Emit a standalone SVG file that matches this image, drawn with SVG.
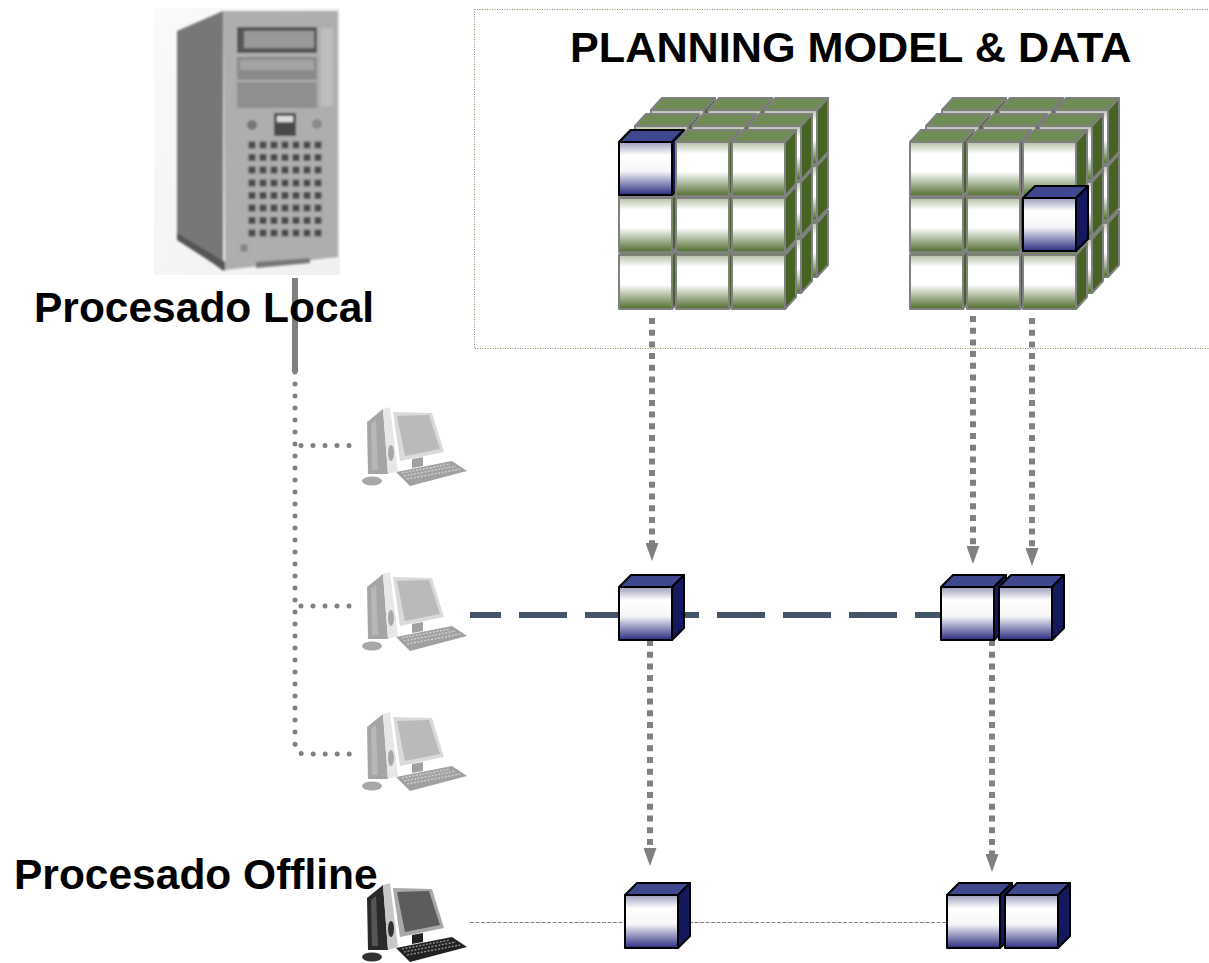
<svg xmlns="http://www.w3.org/2000/svg" width="1209" height="963" viewBox="0 0 1209 963">
<style>
.lbl{font-family:"Liberation Sans",Arial,sans-serif;font-weight:bold;fill:#000}
.flow{fill:none;stroke:#808080;stroke-width:6;stroke-dasharray:6 5.700;marker-end:url(#ah)}
.dots{fill:none;stroke:#808080;stroke-width:5;stroke-linecap:round;stroke-dasharray:0 12}
.gc{stroke:#808080;stroke-width:2;stroke-linejoin:round}
.bc{stroke:#000;stroke-width:2;stroke-linejoin:round}
</style>
<defs>
<linearGradient id="gg" x1="0" y1="0" x2="0" y2="1"><stop offset="0" stop-color="#b4c0a6"/><stop offset=".22" stop-color="#fff"/><stop offset=".55" stop-color="#fff"/><stop offset="1" stop-color="#4f6d2e"/></linearGradient>
<linearGradient id="bg" x1="0" y1="0" x2="0" y2="1"><stop offset="0" stop-color="#9c9cbc"/><stop offset=".25" stop-color="#fff"/><stop offset=".55" stop-color="#f6f6f8"/><stop offset="1" stop-color="#2a2d80"/></linearGradient>
<linearGradient id="bgd" x1="0" y1="0" x2="1" y2="1"><stop offset="0" stop-color="#fafafa"/><stop offset="1" stop-color="#f0f0f0"/></linearGradient>
<filter id="soft" x="-5%" y="-5%" width="110%" height="110%"><feGaussianBlur stdDeviation="1.2"/></filter>
<filter id="soft2" x="-5%" y="-5%" width="110%" height="110%"><feGaussianBlur stdDeviation="0.5"/></filter>
<marker id="ah" markerUnits="userSpaceOnUse" markerWidth="18" markerHeight="13" refX="0" refY="6.500" orient="auto"><path d="M0 0L18 6.500L0 13Z" fill="#808080"/></marker>
<g id="gcube" class="gc"><path d="M0 0L11-12H64L53 0Z" fill="#6f8c55"/><path d="M53 0L64-12V42L53 54Z" fill="#476324"/><rect width="53" height="54" fill="url(#gg)"/></g>
<g id="bcube" class="bc"><path d="M0 0L12-12H65L53 0Z" fill="#3f478f"/><path d="M53 0L65-12V41L53 53Z" fill="#14185f"/><rect width="53" height="53" fill="url(#bg)"/></g>
<g id="layer">
<use href="#gcube" x="0" y="113"/><use href="#gcube" x="57" y="113"/><use href="#gcube" x="113" y="113"/>
<use href="#gcube" x="0" y="56"/><use href="#gcube" x="57" y="56"/><use href="#gcube" x="113" y="56"/>
<use href="#gcube" x="0" y="0"/><use href="#gcube" x="57" y="0"/><use href="#gcube" x="113" y="0"/>
</g>
<g id="matrix"><use href="#layer" x="32" y="-32"/><use href="#layer" x="16" y="-16"/><use href="#layer"/></g>
<g id="pc" filter="url(#soft2)">
<ellipse cx="92" cy="81" rx="10" ry="4.500" fill="#333"/>
<path d="M87 22L103 9L108 74L88 74Z" fill="#2c2c2c"/>
<path d="M91 24L96 20L98 70L92 70Z" fill="#555"/>
<path d="M103 9L110 7L118 71L108 74Z" fill="#c8c8c8"/>
<ellipse cx="111" cy="53" rx="3" ry="8" fill="#333"/>
<path d="M132 59L143 57V66L132 68Z" fill="#222"/>
<path d="M113 12L152 13L164 52L120 61Z" fill="#a8a8a8"/>
<path d="M117 16L149 15L160 49L125 56Z" fill="#5c5c5c"/>
<path d="M116 72L172 61L187 71L130 86Z" fill="#222"/>
<path d="M122 73L170 64M124 76L176 66M127 79L180 69" fill="none" stroke="#8a8a8a" stroke-width="1.500" stroke-dasharray="2 1.500"/>
</g>
</defs>

<rect id="frame" x="474.500" y="9.500" width="735" height="339" fill="none" stroke="#7d8f5c" stroke-width="1" stroke-dasharray="1 1.500"/>

<g id="server">
<rect x="154" y="8" width="186" height="267" fill="url(#bgd)"/>
<g filter="url(#soft)">
<path d="M177 31L223 11V271L177 235Z" fill="#777"/>
<path d="M223 11H338V257L225 270Z" fill="#aeaeae"/>
<path d="M177 233L225 262V271L177 240Z" fill="#555"/>
<path d="M256 268L310 263V258L256 262Z" fill="#777"/>
<rect x="237" y="27" width="80" height="26" fill="#555"/>
<rect x="244" y="31" width="70" height="17" fill="#999"/>
<rect x="237" y="57" width="80" height="23" fill="#8a8a8a"/>
<rect x="240" y="60" width="74" height="10" fill="#a4a4a4"/>
<rect x="237" y="82" width="80" height="26" fill="#8f8f8f"/>
<rect x="321" y="28" width="12" height="78" fill="#bdbdbd"/>
<rect x="274" y="113" width="22" height="23" fill="#4a4a4a"/>
<rect x="277" y="116" width="16" height="6" fill="#ddd"/>
<circle cx="252" cy="125" r="5" fill="#777"/><circle cx="317" cy="124" r="5" fill="#8a8a8a"/>
<path d="M248.500 145H321.500M248.500 157.500H321.500M248.500 170H321.500M248.500 183H321.500M248.500 195.500H321.500M248.500 208H321.500M248.500 220.500H321.500M248.500 233H321.500" fill="none" stroke="#484848" stroke-width="7" stroke-dasharray="7 4"/>
<circle cx="244" cy="248" r="4" fill="#888"/>
</g>
</g>

<g id="connectors">
<path d="M295 278V372" fill="none" stroke="#808080" stroke-width="6"/>
<path class="dots" d="M295 372V742Q295 754 305 754H352"/>
<path class="dots" d="M301 445.500H352"/>
<path class="dots" d="M301 606H352"/>
<path d="M470 615H501M519 615H567M585 615H619M684 615H699M717 615H765M783 615H831M849 615H897M915 615H941" fill="none" stroke="#44546a" stroke-width="6"/>
<path d="M470 922.500H625M689 922.500H947" fill="none" stroke="#808080" stroke-width="1" stroke-dasharray="4 1.500"/>
<path class="flow" d="M652 318V543"/>
<path class="flow" d="M973 316V546"/>
<path class="flow" d="M1032 318V548"/>
<path class="flow" d="M650 640V848"/>
<path class="flow" d="M992 640V854"/>
</g>

<g id="cube-matrix-1"><use href="#matrix" x="619" y="142"/><use href="#bcube" x="619" y="142"/><use href="#gcube" x="676" y="142"/><use href="#gcube" x="732" y="142"/></g>
<g id="cube-matrix-2"><use href="#matrix" x="910" y="142"/><use href="#bcube" x="1023" y="198"/></g>
<g id="pc-1" opacity=".42"><use href="#pc" x="280" y="400"/></g>
<g id="pc-2" opacity=".42"><use href="#pc" x="280" y="565"/></g>
<g id="pc-3" opacity=".42"><use href="#pc" x="280" y="705"/></g>
<g id="pc-4"><use href="#pc" x="280" y="876"/></g>
<g id="cube-a"><use href="#bcube" x="619" y="587"/></g>
<g id="cube-b"><use href="#bcube" x="941" y="587"/></g>
<g id="cube-c"><use href="#bcube" x="999" y="587"/></g>
<g id="cube-d"><use href="#bcube" x="625" y="895"/></g>
<g id="cube-e"><use href="#bcube" x="947" y="895"/></g>
<g id="cube-f"><use href="#bcube" x="1005" y="895"/></g>
<text id="title" class="lbl" x="570" y="62" font-size="43.200">PLANNING MODEL &amp; DATA</text>
<text id="label-local" class="lbl" x="34" y="322" font-size="42.500">Procesado Local</text>
<text id="label-offline" class="lbl" x="14" y="889" font-size="42.500">Procesado Offline</text>
</svg>
